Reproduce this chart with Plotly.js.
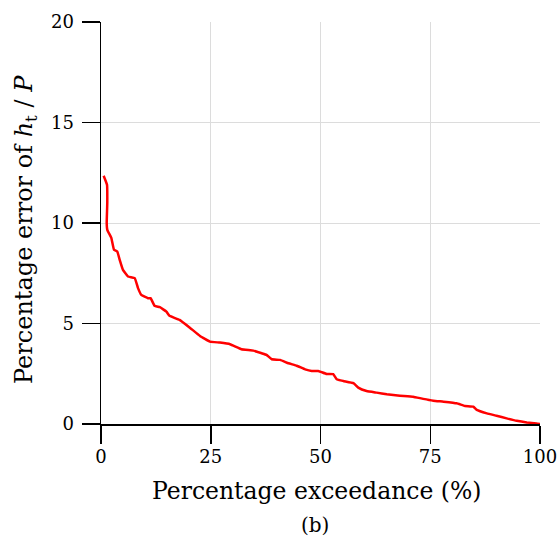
<!DOCTYPE html>
<html>
<head>
<meta charset="utf-8">
<script src="https://cdn.plot.ly/plotly-3.0.1.min.js"></script>
<style>html,body{margin:0;padding:0;background:#fff;}#chart{width:557px;height:542px;}</style>
</head>
<body>
<div id="chart"></div>
<script>
const exceedance = [0.6, 1.37, 1.43, 1.3, 1.43, 2.35, 2.96, 3.7, 4.26, 5.0, 6.15, 7.68, 8.43, 9.18, 10.7, 11.3, 12.2, 13.4, 14.9, 15.6, 17.9, 20.3, 22.55, 24.8, 27.1, 29.4, 32.0, 34.7, 36.6, 37.7, 38.9, 40.8, 42.7, 44.6, 46.5, 48.0, 49.5, 51.4, 52.9, 53.7, 55.2, 57.5, 58.6, 60.5, 62.8, 65.1, 68.1, 71.1, 73.4, 75.7, 78.0, 81.0, 82.9, 84.8, 85.6, 87.9, 90.1, 92.4, 94.7, 97.0, 99.2, 100];
const errorPct = [12.35, 11.9, 11.0, 10.0, 9.66, 9.26, 8.67, 8.58, 8.17, 7.67, 7.34, 7.26, 6.76, 6.42, 6.26, 6.26, 5.88, 5.81, 5.59, 5.38, 5.18, 4.78, 4.38, 4.10, 4.05, 3.97, 3.72, 3.65, 3.52, 3.44, 3.22, 3.19, 3.02, 2.90, 2.72, 2.64, 2.64, 2.49, 2.48, 2.23, 2.14, 2.03, 1.81, 1.64, 1.56, 1.48, 1.41, 1.36, 1.25, 1.16, 1.11, 1.03, 0.90, 0.86, 0.70, 0.53, 0.41, 0.28, 0.16, 0.08, 0.03, 0.0];
const xTicks = [0, 25, 50, 75, 100];
const yTicks = [0, 5, 10, 15, 20];
const xTitle = 'Percentage exceedance (%)';
const yTitle = 'Percentage error of <i>h</i><sub>t</sub> / <i>P</i>';
const panelLabel = '(b)';

const serif = 'DejaVu Serif';
const trace = {
  x: exceedance, y: errorPct, type: 'scatter', mode: 'lines',
  line: {color: '#ff0000', width: 2.5, shape: 'spline', smoothing: 0.3},
  hoverinfo: 'skip'
};
const layout = {
  width: 557, height: 542,
  margin: {l: 101, r: 17, t: 22, b: 118},
  paper_bgcolor: '#ffffff', plot_bgcolor: '#ffffff',
  showlegend: false,
  font: {family: serif, size: 18, color: '#000'},
  xaxis: {
    range: [0, 100], tickvals: xTicks, ticktext: xTicks.map(String),
    showgrid: true, gridcolor: '#dcdcdc', gridwidth: 1,
    showline: true, linecolor: '#000', linewidth: 1.5,
    ticks: 'outside', ticklen: 18, tickwidth: 1.5, tickcolor: '#000',
    zeroline: false, ticklabelstandoff: -2, ticklabeloverflow: 'allow',
    tickfont: {family: serif, size: 18, color: '#000'}
  },
  yaxis: {
    range: [0, 20], tickvals: yTicks, ticktext: yTicks.map(String),
    showgrid: true, gridcolor: '#dcdcdc', gridwidth: 1,
    showline: true, linecolor: '#000', linewidth: 1.5,
    ticks: 'outside', ticklen: 18, tickwidth: 1.5, tickcolor: '#000',
    zeroline: false, ticklabelstandoff: 4, ticklabeloverflow: 'allow',
    tickfont: {family: serif, size: 18, color: '#000'}
  },
  annotations: [
    {text: xTitle, xref: 'paper', yref: 'paper', x: 0.5, y: 0, xanchor: 'center', yanchor: 'middle',
     yshift: -67, xshift: -4, showarrow: false, font: {family: serif, size: 23.5, color: '#000'}},
    {text: yTitle, xref: 'paper', yref: 'paper', x: 0, y: 0.5, xanchor: 'center', yanchor: 'middle',
     xshift: -76, yshift: -7, textangle: -90, showarrow: false, font: {family: serif, size: 24, color: '#000'}},
    {text: panelLabel, xref: 'paper', yref: 'paper', x: 0.5, y: 0, xanchor: 'center', yanchor: 'middle',
     yshift: -101, xshift: -6, showarrow: false, font: {family: serif, size: 20, color: '#000'}}
  ]
};
Plotly.newPlot('chart', [trace], layout, {displayModeBar: false, staticPlot: true});
</script>
</body>
</html>
